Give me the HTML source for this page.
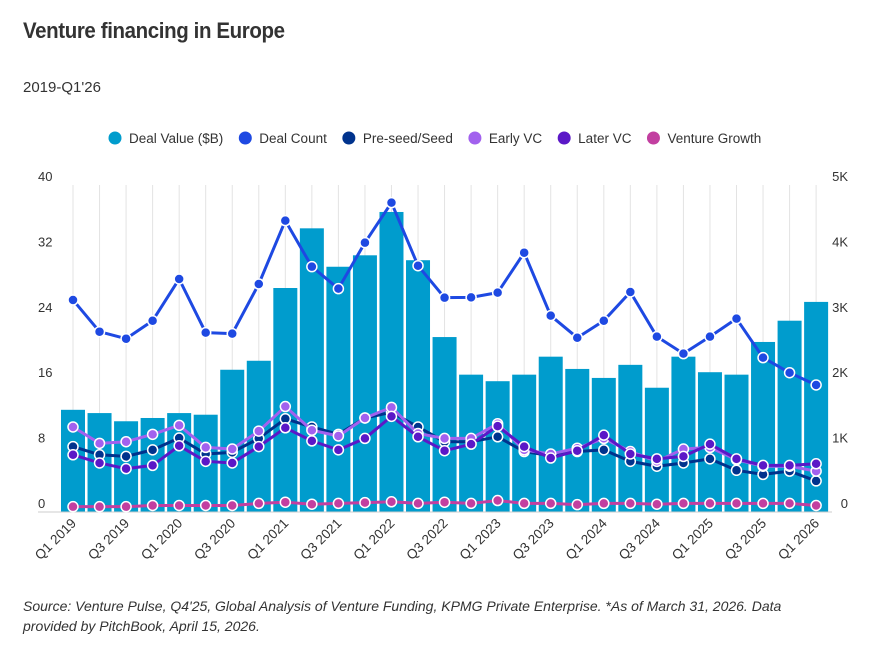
<!DOCTYPE html>
<html><head><meta charset="utf-8"><style>
body{margin:0;background:#fff;width:870px;height:651px;overflow:hidden;font-family:"Liberation Sans",sans-serif;color:#333}
.title{position:absolute;left:23px;top:18px;font-size:22px;font-weight:bold;letter-spacing:-0.4px;color:#333;transform:scaleX(0.93);transform-origin:left}
.sub{position:absolute;left:23px;top:79px;font-size:15px;color:#333}
.src{position:absolute;left:23px;top:596px;font-size:14px;font-style:italic;color:#333;line-height:20px;width:800px}
</style></head><body>
<div class="title">Venture financing in Europe</div>
<div class="sub">2019-Q1'26</div>
<svg id="chart" width="870" height="651" style="position:absolute;left:0;top:0"></svg>
<div class="src">Source: Venture Pulse, Q4'25, Global Analysis of Venture Funding, KPMG Private Enterprise. *As of March 31, 2026. Data provided by PitchBook, April 15, 2026.</div>
<script>
const quarters=["Q1 2019","Q2 2019","Q3 2019","Q4 2019","Q1 2020","Q2 2020","Q3 2020","Q4 2020","Q1 2021","Q2 2021","Q3 2021","Q4 2021","Q1 2022","Q2 2022","Q3 2022","Q4 2022","Q1 2023","Q2 2023","Q3 2023","Q4 2023","Q1 2024","Q2 2024","Q3 2024","Q4 2024","Q1 2025","Q2 2025","Q3 2025","Q4 2025","Q1 2026"];
const dealValue=[12.5,12.1,11.1,11.5,12.1,11.9,17.4,18.5,27.4,34.7,30.0,31.4,36.7,30.8,21.4,16.8,16.0,16.8,19.0,17.5,16.4,18.0,15.2,19.0,17.1,16.8,20.8,23.4,25.7];
const dealCount=[3242,2757,2650,2925,3563,2742,2727,3486,4455,3751,3415,4118,4730,3766,3277,3282,3354,3965,3002,2665,2925,3364,2681,2421,2681,2956,2360,2130,1942];
const preSeed=[8.0,7.0,6.8,7.6,9.05,7.1,7.3,9.0,11.4,10.4,9.5,11.5,12.2,10.4,8.6,8.6,9.2,7.4,6.9,7.4,7.6,6.2,5.6,6.0,6.5,5.1,4.6,5.0,3.8];
const earlyVC=[10.4,8.4,8.6,9.5,10.6,7.9,7.7,9.9,12.9,10.0,9.3,11.5,12.8,9.6,9.0,9.0,10.8,7.6,7.1,7.8,9.0,7.4,6.2,7.7,7.9,6.4,5.6,5.6,5.0];
const laterVC=[7.0,6.0,5.3,5.7,8.1,6.2,6.0,8.0,10.3,8.7,7.6,9.0,11.7,9.2,7.5,8.3,10.5,8.0,6.6,7.5,9.4,7.1,6.5,6.8,8.3,6.5,5.7,5.7,5.9];
const ventureGrowth=[0.65,0.65,0.65,0.8,0.8,0.8,0.8,1.05,1.2,0.95,1.05,1.15,1.25,1.05,1.2,1.05,1.4,1.05,1.05,0.9,1.05,1.05,0.95,1.05,1.05,1.05,1.05,1.05,0.8];
const leftTicks=[0,8,16,24,32,40];
const rightTicks=[0,1000,2000,3000,4000,5000];
const rightTickLabels=["0","1K","2K","3K","4K","5K"];

const svg=document.getElementById('chart');
const NS='http://www.w3.org/2000/svg';
const X0=73,STEP=26.54,TOP=185,BOT=512;
const xs=i=>X0+i*STEP;
const yL=v=>BOT-(v/40)*(BOT-TOP);
const yR=v=>BOT-(v/5000)*(BOT-TOP);
function mk(tag,attrs,parent){const e=document.createElementNS(NS,tag);for(const k in attrs)e.setAttribute(k,attrs[k]);(parent||svg).appendChild(e);return e;}

const grid=mk('g',{});


quarters.forEach((q,i)=>{mk('line',{x1:xs(i),x2:xs(i),y1:TOP,y2:BOT,stroke:'#e3e3e3','stroke-width':1},grid);});

leftTicks.forEach(t=>{const e=mk('text',{x:38,y:yL(t)-4,'text-anchor':'start','font-size':13,fill:'#333'});e.textContent=t;

});
rightTicks.forEach((t,i)=>{const e=mk('text',{x:848,y:yR(t)-4,'text-anchor':'end','font-size':13,fill:'#333'});e.textContent=rightTickLabels[i];

});

const bars=mk('g',{});


dealValue.forEach((v,i)=>{const r=mk('rect',{x:xs(i)-12,y:yL(v),width:24,height:BOT-yL(v),fill:'#009ccd'},bars);

});
mk('line',{x1:38,x2:832,y1:BOT,y2:BOT,stroke:'#ccc','stroke-width':1});

function series(vals,yf,color,name){
  const g=mk('g',{});
  
  
  mk('polyline',{points:vals.map((v,i)=>xs(i)+','+yf(v)).join(' '),fill:'none',stroke:color,'stroke-width':3,'stroke-linejoin':'round'},g);
  vals.forEach((v,i)=>{const c=mk('circle',{cx:xs(i),cy:yf(v),r:5,fill:color,stroke:'#fff','stroke-width':1.5},g);
  
  });
}
series(ventureGrowth,yL,'#c23fa0','venture-growth-line');
series(preSeed,yL,'#00338d','pre-seed-line');
series(earlyVC,yL,'#a261ee','early-vc-line');
series(laterVC,yL,'#5b18c7','later-vc-line');
series(dealCount,yR,'#1e49e2','deal-count-line');

quarters.forEach((q,i)=>{if(i%2)return;const x=xs(i)+4,y=524;
const t=mk('text',{x:x,y:y,'text-anchor':'end','font-size':13.5,fill:'#333',transform:`rotate(-45 ${x} ${y})`});t.textContent=q;

});

const legend=[["Deal Value ($B)",'#009ccd'],["Deal Count",'#1e49e2'],["Pre-seed/Seed",'#00338d'],["Early VC",'#a261ee'],["Later VC",'#5b18c7'],["Venture Growth",'#c23fa0']];
let lx=109;
const lg=mk('g',{});


legend.forEach(([n,c])=>{const g=mk('g',{},lg);


mk('circle',{cx:lx+6,cy:138,r:6.5,fill:c},g);
const t=mk('text',{x:lx+20,y:143,'font-size':13.5,fill:'#333'},g);t.textContent=n;
lx+=20+t.getComputedTextLength()+16;});
</script>
</body></html>
